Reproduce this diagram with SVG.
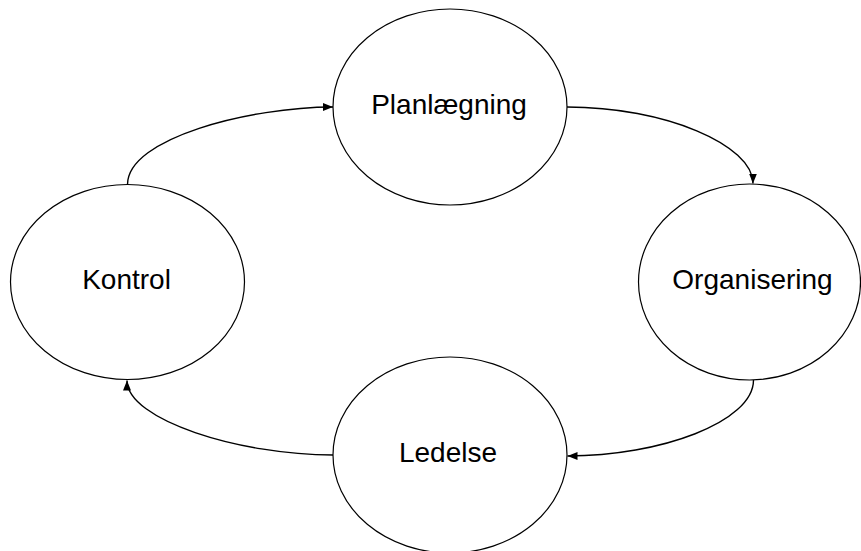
<svg xmlns="http://www.w3.org/2000/svg" width="861" height="551" viewBox="0 0 861 551">
<style>
.node ellipse{fill:#fff;stroke:#000;stroke-width:1.2}
.node text{font-family:"Liberation Sans",Arial,sans-serif;font-size:28px;fill:#000;text-anchor:middle}
.conn path{fill:none;stroke:#000;stroke-width:1.4}
</style>
<defs>
<marker id="arr" markerUnits="userSpaceOnUse" markerWidth="11" markerHeight="9" refX="10" refY="4" orient="auto">
<path d="M0,0 L10,4 L0,8 z" fill="#000"/>
</marker>
</defs>
<rect width="861" height="551" fill="#fff"/>
<g id="connectors" class="conn">
<path d="M127.5,184.5 C127.5,138 250,107 333,107" marker-end="url(#arr)"/>
<path d="M567,107 C665,107 753,145 753,183.5" marker-end="url(#arr)"/>
<path d="M753.5,380 C753.5,422 660,456 567.5,456" marker-end="url(#arr)"/>
<path d="M333,455 C240,455 127,420 127,380.5" marker-end="url(#arr)"/>
</g>
<g id="planlaegning" class="node">
<ellipse cx="450" cy="107" rx="117" ry="98"/>
<text x="449" y="114">Planlægning</text>
</g>
<g id="organisering" class="node">
<ellipse cx="749.5" cy="282" rx="111" ry="98"/>
<text x="752.5" y="288.5">Organisering</text>
</g>
<g id="ledelse" class="node">
<ellipse cx="450" cy="455" rx="117" ry="98"/>
<text x="448" y="462">Ledelse</text>
</g>
<g id="kontrol" class="node">
<ellipse cx="127.5" cy="282" rx="117" ry="97.5"/>
<text x="126.5" y="288.5">Kontrol</text>
</g>
</svg>
